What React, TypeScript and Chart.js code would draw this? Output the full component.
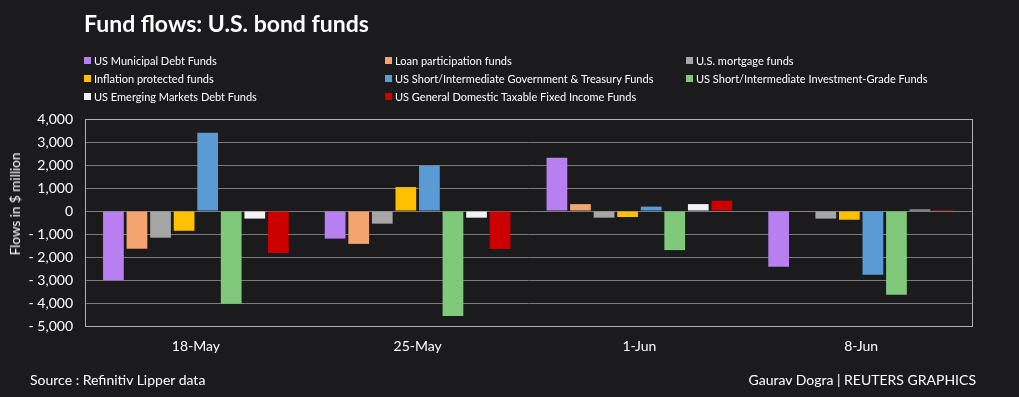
import React, { useEffect, useRef } from "react";
import { Chart, registerables } from "chart.js";

Chart.register(...registerables);

const categories = ["18-May", "25-May", "1-Jun", "8-Jun"];
const seriesNames = [
  "US Municipal Debt Funds",
  "Loan participation funds",
  "U.S. mortgage funds",
  "Inflation protected funds",
  "US Short/Intermediate Government & Treasury Funds",
  "US Short/Intermediate Investment-Grade Funds",
  "US Emerging Markets Debt Funds",
  "US General Domestic Taxable Fixed Income Funds",
];
const seriesColors = ["#b77ff0", "#f4a46e", "#a6a6a6", "#ffc000", "#5b9bd5", "#80c97a", "#f2f2f2", "#cc0000"];
const municipal = [-3000, -1200, 2320, -2420];
const loan = [-1640, -1430, 300, -30];
const mortgage = [-1160, -550, -290, -330];
const inflation = [-860, 1040, -260, -380];
const govTreasury = [3400, 1970, 190, -2770];
const investmentGrade = [-4030, -4570, -1700, -3640];
const emerging = [-330, -290, 300, 60];
const generalTaxable = [-1830, -1650, 450, 50];
const seriesValues = [municipal, loan, mortgage, inflation, govTreasury, investmentGrade, emerging, generalTaxable];

const yMin = -5000;
const yMax = 4000;
const yStep = 1000;

const BG = "#1b1b1d";
const FONT = "Lato, 'Open Sans', sans-serif";

const borderPlugin = {
  id: "plotBorder",
  afterDraw(chart: any) {
    const { ctx, chartArea } = chart;
    ctx.save();
    ctx.strokeStyle = "#b0b0b0";
    ctx.lineWidth = 1;
    ctx.strokeRect(
      Math.round(chartArea.left) + 0.5,
      Math.round(chartArea.top) + 0.5,
      Math.round(chartArea.right - chartArea.left),
      Math.round(chartArea.bottom - chartArea.top)
    );
    ctx.restore();
  },
};

function fmt(v: number) {
  if (v === 0) return "0";
  const s = Math.abs(v).toLocaleString("en-US");
  return v < 0 ? "- " + s : s;
}

export default function App() {
  const ref = useRef<HTMLCanvasElement | null>(null);
  useEffect(() => {
    if (!ref.current) return;
    const chart = new Chart(ref.current, {
      type: "bar",
      data: {
        labels: categories,
        datasets: seriesNames.map((name, i) => ({
          label: name,
          data: seriesValues[i],
          backgroundColor: seriesColors[i],
          borderWidth: 0,
          categoryPercentage: 0.85,
          barPercentage: 0.88,
        })),
      },
      options: {
        animation: false,
        responsive: false,
        maintainAspectRatio: false,
        layout: { padding: { left: 0, top: 119, right: 47, bottom: 0 } },
        plugins: { legend: { display: false }, title: { display: false }, tooltip: { enabled: false } },
        scales: {
          x: {
            grid: { display: false },
            border: { display: false },
            ticks: { color: "#ffffff", font: { family: FONT, size: 14 }, padding: 4 },
            afterFit(scale: any) {
              scale.height = 71;
            },
          },
          y: {
            min: yMin,
            max: yMax,
            grid: { color: "#7a7a7a", lineWidth: 1, drawTicks: false },
            border: { display: false },
            ticks: {
              stepSize: yStep,
              color: "#ffffff",
              font: { family: FONT, size: 14 },
              padding: 12,
              callback: (v: any) => fmt(Number(v)),
            },
            afterFit(scale: any) {
              scale.width = 85;
            },
          },
        },
      },
      plugins: [borderPlugin],
    });
    return () => chart.destroy();
  }, []);

  const legendPos = [
    [84, 60], [385, 60], [686, 60],
    [84, 78], [385, 78], [686, 78],
    [84, 96], [385, 96],
  ];

  return (
    <div style={{ position: "fixed", left: 0, top: 0, width: 1019, height: 397, background: BG, fontFamily: FONT, color: "#fff", overflow: "hidden" }}>
      <canvas ref={ref} width={1019} height={397} style={{ position: "absolute", left: 0, top: 0, width: 1019, height: 397 }} />
      <div style={{ position: "absolute", left: 84, top: 9, fontSize: 23, fontWeight: 700, lineHeight: "28px", whiteSpace: "nowrap" }}>
        Fund flows: U.S. bond funds
      </div>
      <div style={{ position: "absolute", left: 15, top: 204, width: 0, height: 0 }}>
        <div style={{ position: "absolute", left: 0, top: 0, transform: "translate(-50%, -50%) rotate(-90deg)", fontSize: 13.5, whiteSpace: "nowrap", lineHeight: "16px" }}>
          Flows in $ million
        </div>
      </div>
      {seriesNames.map((n, i) => (
        <div key={n} style={{ position: "absolute", left: legendPos[i][0], top: legendPos[i][1] - 8, height: 16, display: "flex", alignItems: "center", fontSize: 11, whiteSpace: "nowrap" }}>
          <span style={{ display: "inline-block", width: 7, height: 7, background: seriesColors[i], marginRight: 3 }} />
          <span>{n}</span>
        </div>
      ))}
      <div style={{ position: "absolute", left: 30, top: 371, fontSize: 14, lineHeight: "18px", whiteSpace: "nowrap" }}>
        Source : Refinitiv Lipper data
      </div>
      <div style={{ position: "absolute", right: 43, top: 371, fontSize: 14, lineHeight: "18px", whiteSpace: "nowrap" }}>
        Gaurav Dogra | REUTERS GRAPHICS
      </div>
    </div>
  );
}
